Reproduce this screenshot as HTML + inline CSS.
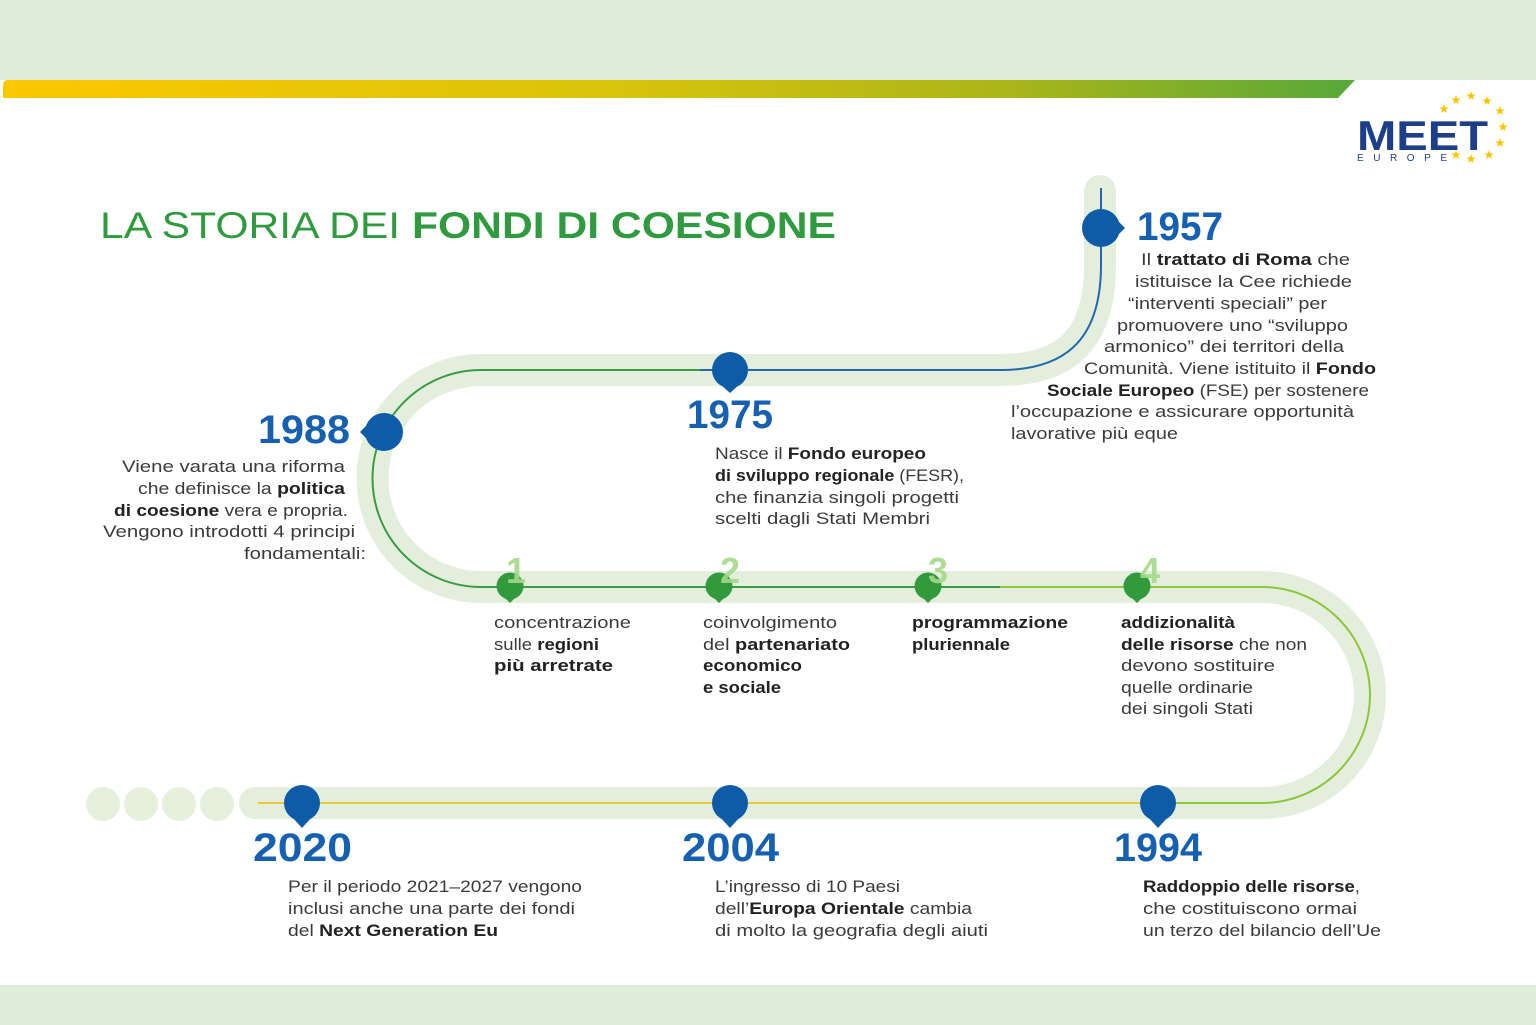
<!DOCTYPE html>
<html><head><meta charset="utf-8"><style>
html,body{margin:0;padding:0;background:#fff;}
svg{display:block;}
text{font-family:"Liberation Sans",sans-serif;}
.b{font-size:17px;fill:#3a3a3a;}
.bb{font-weight:bold;fill:#222;}
.yr{font-size:40px;font-weight:bold;fill:#1560b0;}
.num{font-size:36px;font-weight:bold;fill:#a6d98a;opacity:.9;}
</style></head><body>
<svg width="1536" height="1025" viewBox="0 0 1536 1025" xmlns="http://www.w3.org/2000/svg">
<defs>
<linearGradient id="top" x1="0" x2="1"><stop offset="0" stop-color="#fcc800"/><stop offset="0.45" stop-color="#d9c40c"/><stop offset="0.75" stop-color="#a9b51a"/><stop offset="1" stop-color="#57a83a"/></linearGradient>
<linearGradient id="bot" x1="0" x2="1"><stop offset="0" stop-color="#dfe6ef"/><stop offset="0.3" stop-color="#e4eee0"/><stop offset="1" stop-color="#e6f2dc"/></linearGradient>
<symbol id="star" viewBox="-1 -1 2 2"><polygon points="0,-1 0.24,-0.31 0.95,-0.31 0.38,0.12 0.59,0.81 0,0.38 -0.59,0.81 -0.38,0.12 -0.95,-0.31 -0.24,-0.31" fill="#f7c600"/></symbol>
</defs>
<rect x="0" y="0" width="1536" height="80" fill="#dfecda"/>
<path d="M8 80 H1355 L1338 98 H3 V86 Q3 80 8 80Z" fill="url(#top)"/>
<rect x="0" y="985" width="1536" height="40" fill="#dfecda"/>

<path d="M1100 191 V265 C1100 345 1060 370 1000 370 H481 A108.5 108.5 0 0 0 481 587 H1262 A108 108 0 0 1 1262 803 H255" fill="none" stroke="#e3efdc" stroke-width="32" stroke-linecap="round"/>
<path d="M1262 803 H255" fill="none" stroke="url(#bot)" stroke-width="32" stroke-linecap="round"/>
<g fill="#e6f0dc"><circle cx="103" cy="804" r="17"/><circle cx="141" cy="804" r="17"/><circle cx="179" cy="804" r="17"/><circle cx="217" cy="804" r="17"/></g>
<path d="M1101 188 V265 C1101 345 1060 370 1000 370 H700" fill="none" stroke="#2367ad" stroke-width="2"/>
<path d="M700 370 H481 A108.5 108.5 0 0 0 481 587 H1000" fill="none" stroke="#3b9a44" stroke-width="2"/>
<path d="M1000 587 H1262 A108 108 0 0 1 1262 803 H1150" fill="none" stroke="#8fc53a" stroke-width="2"/>
<path d="M1150 803 H258" fill="none" stroke="#e8cb3a" stroke-width="2"/>

<g fill="#0e5ba8">
<circle cx="1101" cy="228" r="19"/><path d="M1115 218 L1125 228 L1115 238Z"/>
<circle cx="384" cy="432" r="19"/><path d="M370 422 L360 432 L370 442Z"/>
<circle cx="730" cy="370" r="18"/><path d="M720 384 L730 393 L740 384Z"/>
<circle cx="302" cy="803" r="18"/><path d="M292 817 L302 828 L312 817Z"/>
<circle cx="730" cy="803" r="18"/><path d="M720 817 L730 828 L740 817Z"/>
<circle cx="1158" cy="803" r="18"/><path d="M1148 817 L1158 828 L1168 817Z"/>
</g>
<g fill="#329a3d">
<circle cx="510" cy="586" r="13.5"/><path d="M502 595 L510 603 L518 595Z"/>
<circle cx="719" cy="586" r="13.5"/><path d="M711 595 L719 603 L727 595Z"/>
<circle cx="928" cy="586" r="13.5"/><path d="M920 595 L928 603 L936 595Z"/>
<circle cx="1137" cy="586" r="13.5"/><path d="M1129 595 L1137 603 L1145 595Z"/>
</g>
<text class="num" x="506" y="583">1</text>
<text class="num" x="720" y="583">2</text>
<text class="num" x="928" y="583">3</text>
<text class="num" x="1140" y="583">4</text>

<text x="100" y="238" font-size="37" fill="#2f9a3e" textLength="736" lengthAdjust="spacingAndGlyphs">LA STORIA DEI <tspan font-weight="bold">FONDI DI COESIONE</tspan></text>

<text x="1357" y="150" font-size="42" font-weight="bold" fill="#1d3f8a" textLength="131" lengthAdjust="spacingAndGlyphs">MEET</text>
<text x="1357" y="161" font-size="10" fill="#1d3f8a" textLength="90" lengthAdjust="spacing">EUROPE</text>
<g>
<use href="#star" x="1439" y="104" width="10" height="10"/>
<use href="#star" x="1451" y="95" width="10" height="10"/>
<use href="#star" x="1466" y="91" width="10" height="10"/>
<use href="#star" x="1482" y="96" width="10" height="10"/>
<use href="#star" x="1495" y="106" width="10" height="10"/>
<use href="#star" x="1498" y="122" width="10" height="10"/>
<use href="#star" x="1495" y="138" width="10" height="10"/>
<use href="#star" x="1484" y="150" width="10" height="10"/>
<use href="#star" x="1466" y="154" width="10" height="10"/>
<use href="#star" x="1451" y="150" width="10" height="10"/>
</g>

<text class="yr" x="1137" y="240" textLength="86" lengthAdjust="spacingAndGlyphs">1957</text>
<text class="yr" x="258" y="443" textLength="92" lengthAdjust="spacingAndGlyphs">1988</text>
<text class="yr" x="687" y="428" textLength="86" lengthAdjust="spacingAndGlyphs">1975</text>
<text class="yr" x="253" y="861" textLength="99" lengthAdjust="spacingAndGlyphs">2020</text>
<text class="yr" x="682" y="861" textLength="97" lengthAdjust="spacingAndGlyphs">2004</text>
<text class="yr" x="1114" y="861" textLength="88" lengthAdjust="spacingAndGlyphs">1994</text>

<g class="b">
<text x="1141" y="265" textLength="209" lengthAdjust="spacingAndGlyphs">Il <tspan class="bb">trattato di Roma</tspan> che</text>
<text x="1135" y="287" textLength="217" lengthAdjust="spacingAndGlyphs">istituisce la Cee  richiede</text>
<text x="1128" y="309" textLength="199" lengthAdjust="spacingAndGlyphs">“interventi speciali” per</text>
<text x="1117" y="331" textLength="231" lengthAdjust="spacingAndGlyphs">promuovere uno “sviluppo</text>
<text x="1104" y="352" textLength="240" lengthAdjust="spacingAndGlyphs">armonico” dei territori della</text>
<text x="1084" y="374" textLength="292" lengthAdjust="spacingAndGlyphs">Comunità. Viene istituito il <tspan class="bb">Fondo</tspan></text>
<text x="1047" y="396" textLength="322" lengthAdjust="spacingAndGlyphs"><tspan class="bb">Sociale Europeo</tspan> (FSE) per sostenere</text>
<text x="1011" y="417" textLength="343" lengthAdjust="spacingAndGlyphs">l’occupazione e assicurare opportunità</text>
<text x="1011" y="439" textLength="167" lengthAdjust="spacingAndGlyphs">lavorative più eque</text>
</g>
<g class="b">
<text x="122" y="472" textLength="223" lengthAdjust="spacingAndGlyphs">Viene varata una riforma</text>
<text x="138" y="494" textLength="207" lengthAdjust="spacingAndGlyphs">che definisce la <tspan class="bb">politica</tspan></text>
<text x="114" y="516" textLength="234" lengthAdjust="spacingAndGlyphs"><tspan class="bb">di coesione</tspan> vera e propria.</text>
<text x="103" y="537" textLength="252" lengthAdjust="spacingAndGlyphs">Vengono introdotti 4 principi</text>
<text x="244" y="559" textLength="122" lengthAdjust="spacingAndGlyphs">fondamentali:</text>
</g>
<g class="b">
<text x="715" y="459" textLength="211" lengthAdjust="spacingAndGlyphs">Nasce il <tspan class="bb">Fondo europeo</tspan></text>
<text x="715" y="481" textLength="249" lengthAdjust="spacingAndGlyphs"><tspan class="bb">di sviluppo regionale</tspan> (FESR),</text>
<text x="715" y="503" textLength="244" lengthAdjust="spacingAndGlyphs">che finanzia singoli progetti</text>
<text x="715" y="524" textLength="215" lengthAdjust="spacingAndGlyphs">scelti dagli Stati Membri</text>
</g>
<g class="b">
<text x="494" y="628" textLength="137" lengthAdjust="spacingAndGlyphs">concentrazione</text>
<text x="494" y="650" textLength="105" lengthAdjust="spacingAndGlyphs">sulle <tspan class="bb">regioni</tspan></text>
<text x="494" y="671" textLength="119" lengthAdjust="spacingAndGlyphs" class="bb">più arretrate</text>
<text x="703" y="628" textLength="134" lengthAdjust="spacingAndGlyphs">coinvolgimento</text>
<text x="703" y="650" textLength="147" lengthAdjust="spacingAndGlyphs">del <tspan class="bb">partenariato</tspan></text>
<text x="703" y="671" textLength="99" lengthAdjust="spacingAndGlyphs" class="bb">economico</text>
<text x="703" y="693" textLength="78" lengthAdjust="spacingAndGlyphs" class="bb">e sociale</text>
<text x="912" y="628" textLength="156" lengthAdjust="spacingAndGlyphs" class="bb">programmazione</text>
<text x="912" y="650" textLength="98" lengthAdjust="spacingAndGlyphs" class="bb">pluriennale</text>
<text x="1121" y="628" textLength="114" lengthAdjust="spacingAndGlyphs" class="bb">addizionalità</text>
<text x="1121" y="650" textLength="186" lengthAdjust="spacingAndGlyphs"><tspan class="bb">delle risorse</tspan> che non</text>
<text x="1121" y="671" textLength="154" lengthAdjust="spacingAndGlyphs">devono sostituire</text>
<text x="1121" y="693" textLength="132" lengthAdjust="spacingAndGlyphs">quelle ordinarie</text>
<text x="1121" y="714" textLength="132" lengthAdjust="spacingAndGlyphs">dei singoli Stati</text>
</g>
<g class="b">
<text x="288" y="892" textLength="294" lengthAdjust="spacingAndGlyphs">Per il periodo 2021–2027 vengono</text>
<text x="288" y="914" textLength="287" lengthAdjust="spacingAndGlyphs">inclusi anche una parte dei fondi</text>
<text x="288" y="936" textLength="210" lengthAdjust="spacingAndGlyphs">del <tspan class="bb">Next Generation Eu</tspan></text>
<text x="715" y="892" textLength="185" lengthAdjust="spacingAndGlyphs">L’ingresso di 10 Paesi</text>
<text x="715" y="914" textLength="257" lengthAdjust="spacingAndGlyphs">dell’<tspan class="bb">Europa Orientale</tspan> cambia</text>
<text x="715" y="936" textLength="273" lengthAdjust="spacingAndGlyphs">di molto la geografia degli aiuti</text>
<text x="1143" y="892" textLength="217" lengthAdjust="spacingAndGlyphs"><tspan class="bb">Raddoppio delle risorse</tspan>,</text>
<text x="1143" y="914" textLength="214" lengthAdjust="spacingAndGlyphs">che costituiscono ormai</text>
<text x="1143" y="936" textLength="238" lengthAdjust="spacingAndGlyphs">un terzo del bilancio dell’Ue</text>
</g>
</svg>
</body></html>
